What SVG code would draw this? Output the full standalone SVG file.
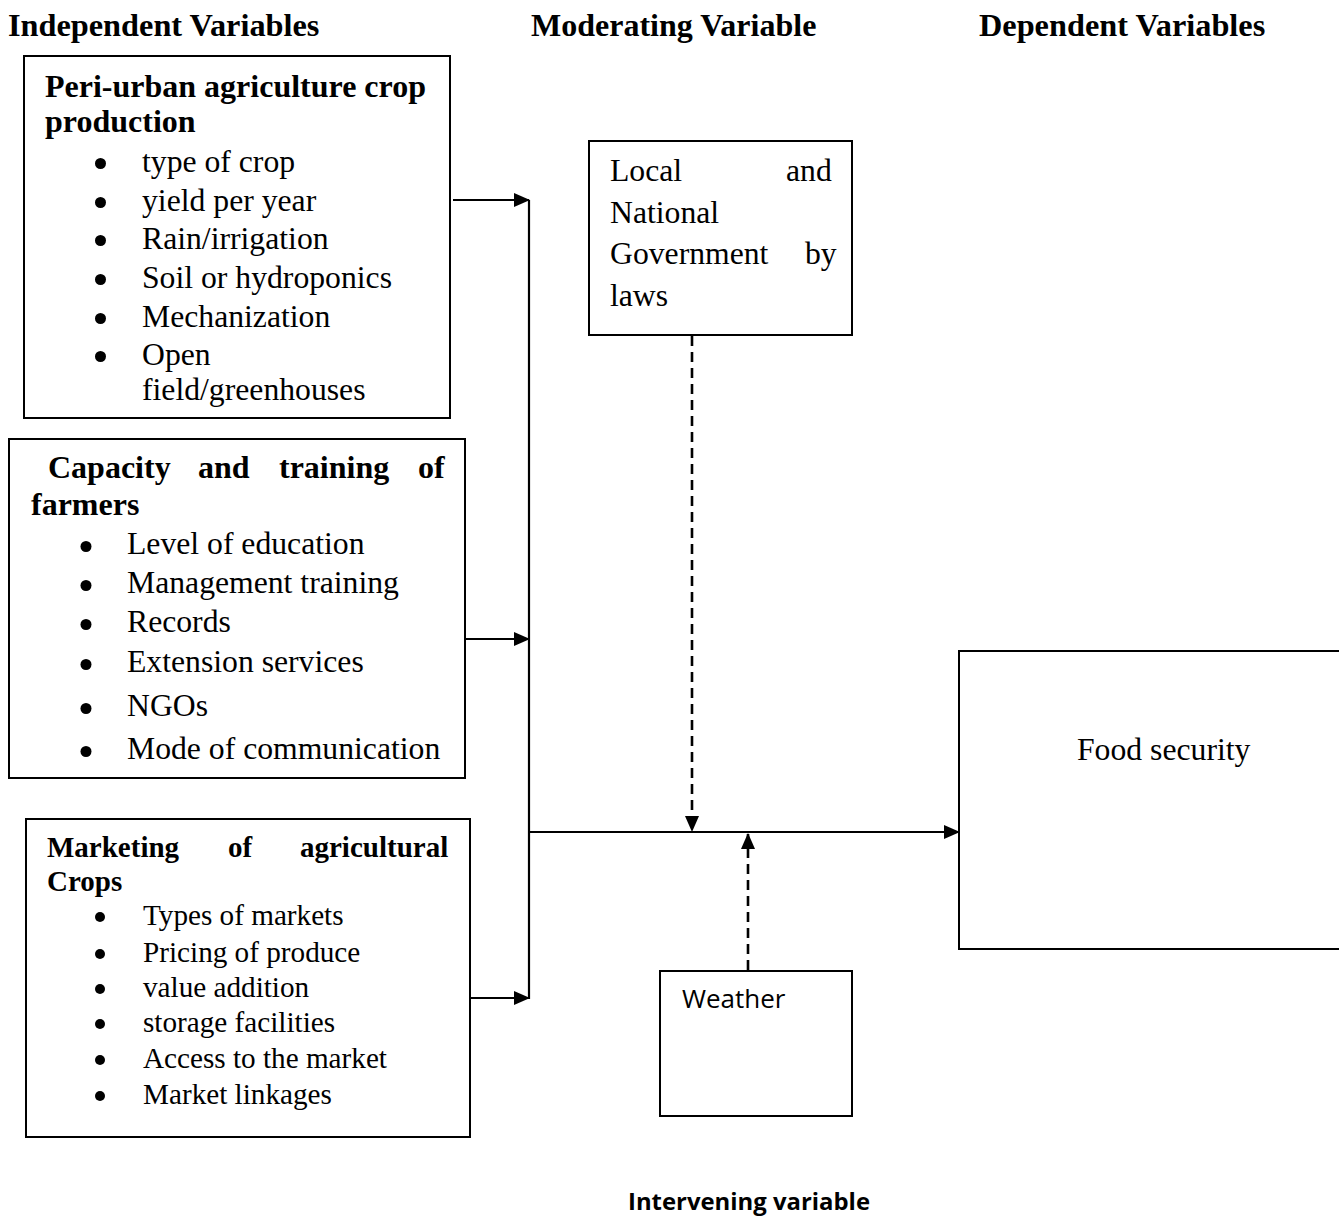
<svg xmlns="http://www.w3.org/2000/svg" width="1339" height="1218" viewBox="0 0 1339 1218">
<defs>
<marker id="ah" markerWidth="16" markerHeight="14" refX="15" refY="7" orient="auto" markerUnits="userSpaceOnUse">
<path d="M0,0 L16,7 L0,14 Z" fill="#000"/>
</marker>
<style>
.box{fill:#fff;stroke:#000;stroke-width:2}
.t{font-family:"Liberation Serif","Times New Roman",serif;fill:#000}
.b{font-weight:bold}
.dot{fill:#000}
.ln{stroke:#000;stroke-width:2.2;fill:none}
.dash{stroke-width:2.6;stroke-dasharray:10,6}
</style>
</defs>
<rect width="1339" height="1218" fill="#fff"/>
<g id="headings">
<text class="t b" x="8" y="36" font-size="32.3">Independent Variables</text>
<text class="t b" x="531" y="36" font-size="32">Moderating Variable</text>
<text class="t b" x="979" y="36" font-size="32.3">Dependent Variables</text>
</g>
<g id="node-crop-production">
<rect class="box" x="24" y="56" width="426" height="362"/>
<text class="t b" x="45" y="97" font-size="32">Peri-urban agriculture crop</text>
<text class="t b" x="45" y="132" font-size="32">production</text>
<g class="dot">
<circle cx="100.5" cy="163.5" r="5.5"/><circle cx="100.5" cy="202.5" r="5.5"/><circle cx="100.5" cy="240.5" r="5.5"/><circle cx="100.5" cy="279.5" r="5.5"/><circle cx="100.5" cy="318.5" r="5.5"/><circle cx="100.5" cy="356.5" r="5.5"/>
</g>
<g class="t" font-size="31.7">
<text x="142" y="172">type of crop</text>
<text x="142" y="211">yield per year</text>
<text x="142" y="249">Rain/irrigation</text>
<text x="142" y="288">Soil or hydroponics</text>
<text x="142" y="327">Mechanization</text>
<text x="142" y="365">Open</text>
<text x="142" y="400">field/greenhouses</text>
</g>
</g>
<g id="node-capacity">
<rect class="box" x="9" y="439" width="456" height="339"/>
<g class="t b" font-size="32">
<text x="48" y="478">Capacity</text>
<text x="198" y="478">and</text>
<text x="279" y="478">training</text>
<text x="418" y="478">of</text>
<text x="31" y="515">farmers</text>
</g>
<g class="dot">
<circle cx="86" cy="546.5" r="5.5"/><circle cx="86" cy="585.5" r="5.5"/><circle cx="86" cy="624.5" r="5.5"/><circle cx="86" cy="664.5" r="5.5"/><circle cx="86" cy="708.5" r="5.5"/><circle cx="86" cy="751.5" r="5.5"/>
</g>
<g class="t" font-size="31.7">
<text x="127" y="554">Level of education</text>
<text x="127" y="593">Management training</text>
<text x="127" y="632">Records</text>
<text x="127" y="672">Extension services</text>
<text x="127" y="716">NGOs</text>
<text x="127" y="759">Mode of communication</text>
</g>
</g>
<g id="node-marketing">
<rect class="box" x="26" y="819" width="444" height="318"/>
<g class="t b" font-size="29">
<text x="47" y="857">Marketing</text>
<text x="228" y="857">of</text>
<text x="300" y="857">agricultural</text>
<text x="47" y="891">Crops</text>
</g>
<g class="dot">
<circle cx="100" cy="917" r="5"/><circle cx="100" cy="954" r="5"/><circle cx="100" cy="989" r="5"/><circle cx="100" cy="1024" r="5"/><circle cx="100" cy="1060" r="5"/><circle cx="100" cy="1096" r="5"/>
</g>
<g class="t" font-size="29.2">
<text x="143" y="925">Types of markets</text>
<text x="143" y="962">Pricing of produce</text>
<text x="143" y="997">value addition</text>
<text x="143" y="1032">storage facilities</text>
<text x="143" y="1068">Access to the market</text>
<text x="143" y="1104">Market linkages</text>
</g>
</g>
<g id="node-government">
<rect class="box" x="589" y="141" width="263" height="194"/>
<g class="t" font-size="31.7">
<text x="610" y="181">Local</text>
<text x="786" y="181">and</text>
<text x="610" y="223">National</text>
<text x="610" y="264">Government</text>
<text x="805" y="264">by</text>
<text x="610" y="306">laws</text>
</g>
</g>
<g id="node-weather">
<rect class="box" x="660" y="971" width="192" height="145"/>
<text x="682" y="1008" font-family="'Open Sans','Liberation Sans',sans-serif" font-size="26">Weather</text>
</g>
<g id="node-food-security">
<rect class="box" x="959" y="651" width="400" height="298"/>
<text class="t" x="1077" y="760" font-size="31.7">Food security</text>
</g>
<g id="label-intervening">
<text x="628" y="1210" font-family="'Open Sans','Liberation Sans',sans-serif" font-weight="bold" font-size="24" textLength="242" lengthAdjust="spacingAndGlyphs">Intervening variable</text>
</g>
<g id="connectors">
<line class="ln" x1="453" y1="200" x2="529" y2="200" marker-end="url(#ah)"/>
<line class="ln" x1="465" y1="639" x2="529" y2="639" marker-end="url(#ah)"/>
<line class="ln" x1="470" y1="998" x2="529" y2="998" marker-end="url(#ah)"/>
<line class="ln" x1="529" y1="200" x2="529" y2="999"/>
<line class="ln" x1="529" y1="832" x2="959" y2="832" marker-end="url(#ah)"/>
<line class="ln dash" x1="692" y1="336" x2="692" y2="831" marker-end="url(#ah)"/>
<line class="ln dash" x1="748" y1="970" x2="748" y2="834" marker-end="url(#ah)"/>
</g>
</svg>
